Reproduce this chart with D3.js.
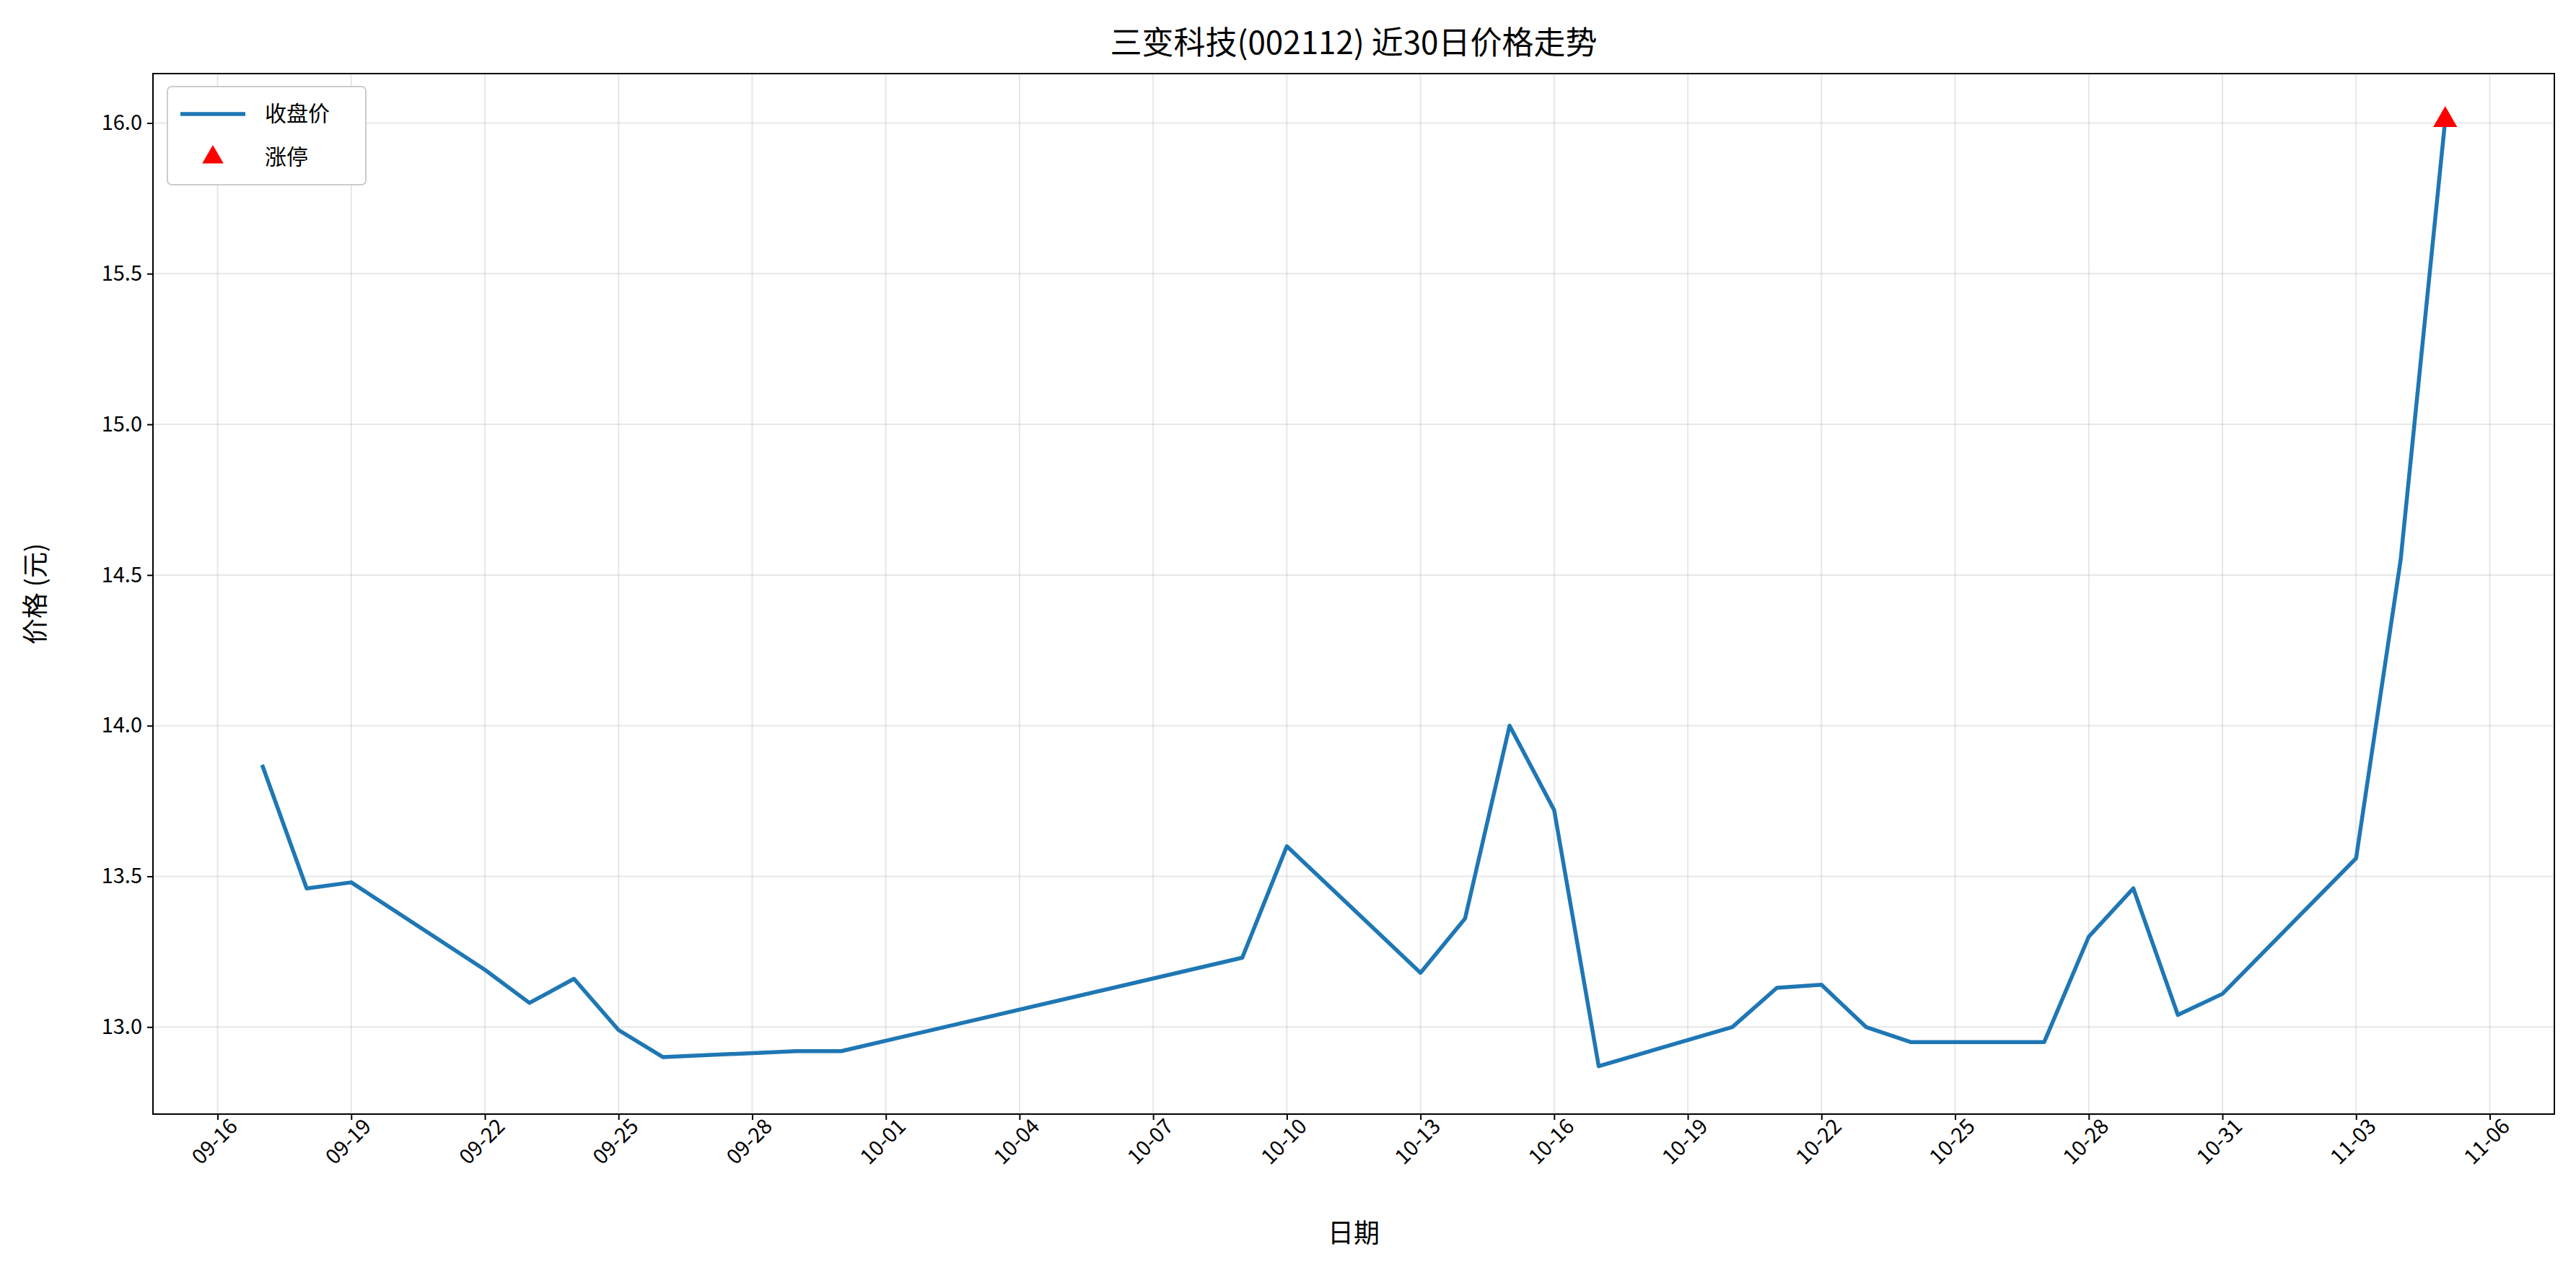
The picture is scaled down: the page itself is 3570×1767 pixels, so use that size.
<!DOCTYPE html>
<html><head><meta charset="utf-8">
<script src="https://cdn.jsdelivr.net/npm/d3@7"></script>
<style>body{margin:0;background:#fff}text{font-family:"Noto Sans CJK SC","DejaVu Sans",sans-serif}</style>
</head><body><svg width="3570" height="1767"></svg>
<script>
const dates = ['09-17','09-18','09-19','09-22','09-23','09-24','09-25','09-26','09-29','09-30','10-09','10-10','10-13','10-14','10-15','10-16','10-17','10-20','10-21','10-22','10-23','10-24','10-27','10-28','10-29','10-30','10-31','11-03','11-04','11-05'];
const closes = [13.87,13.46,13.48,13.19,13.08,13.16,12.99,12.90,12.92,12.92,13.23,13.60,13.18,13.36,14.00,13.72,12.87,13.00,13.13,13.14,13.00,12.95,12.95,13.30,13.46,13.04,13.11,13.56,14.55,16.01];
const limitUp = ['11-05'];
const yTicks = [13.0,13.5,14.0,14.5,15.0,15.5,16.0];

const svg = d3.select('svg');
const L = 212, R = 3540, T = 102, B = 1544;
const parse = s => new Date(2025, +s.slice(0,2)-1, +s.slice(3));
const d0 = parse(dates[0]), d1 = parse(dates[dates.length-1]);
const pad = (d1-d0)*0.05;
const x = d3.scaleTime().domain([new Date(+d0-pad), new Date(+d1+pad)]).range([L,R]);
const y = d3.scaleLinear().domain([12.711,16.164]).range([B,T]);

// x ticks every 3 days from 09-16
const xTicks = d3.range(0,52,3).map(i => new Date(2025,8,16+i));

// grid
svg.append('g').selectAll('line').data(xTicks).join('line')
  .attr('x1',d=>x(d)).attr('x2',d=>x(d)).attr('y1',T).attr('y2',B)
  .attr('stroke','#b0b0b0').attr('stroke-opacity',0.3).attr('stroke-width',2);
svg.append('g').selectAll('line').data(yTicks).join('line')
  .attr('x1',L).attr('x2',R).attr('y1',d=>y(d)).attr('y2',d=>y(d))
  .attr('stroke','#b0b0b0').attr('stroke-opacity',0.3).attr('stroke-width',2);

// axes
const xa = svg.append('g').attr('transform',`translate(0,${B})`)
  .call(d3.axisBottom(x).tickValues(xTicks).tickFormat(d3.timeFormat('%m-%d')).tickSize(8).tickSizeOuter(0));
xa.selectAll('text').attr('font-size',29).attr('fill','#000').attr('text-anchor','end')
  .attr('transform','translate(14,4) rotate(-45)').attr('dy','0.35em').attr('dx','0');
const ya = svg.append('g').attr('transform',`translate(${L},0)`)
  .call(d3.axisLeft(y).tickValues(yTicks).tickFormat(d3.format('.1f')).tickSize(8).tickSizeOuter(0));
ya.selectAll('text').attr('font-size',29).attr('fill','#000').attr('dx','-4');
svg.selectAll('.domain').remove();
svg.selectAll('.tick line').attr('stroke','#000').attr('stroke-width',2);
svg.append('rect').attr('x',L).attr('y',T).attr('width',R-L).attr('height',B-T)
  .attr('fill','none').attr('stroke','#000').attr('stroke-width',2);

// line
const pts = dates.map((d,i)=>({d:parse(d),v:closes[i],s:d}));
svg.append('path').datum(pts)
  .attr('d',d3.line().x(p=>x(p.d)).y(p=>y(p.v)))
  .attr('fill','none').attr('stroke','#1f77b4').attr('stroke-width',5.5).attr('stroke-linejoin','round');

const tri = d3.symbol().type(d3.symbolTriangle).size(480);
svg.append('g').selectAll('path').data(pts.filter(p=>limitUp.includes(p.s))).join('path')
  .attr('d',tri).attr('transform',p=>`translate(${x(p.d)},${y(p.v)})`).attr('fill','red');

// labels
svg.append('text').attr('x',(L+R)/2).attr('y',75).attr('text-anchor','middle').attr('font-size',44).text('三变科技(002112) 近30日价格走势');
svg.append('text').attr('x',(L+R)/2).attr('y',1722).attr('text-anchor','middle').attr('font-size',36).text('日期');
svg.append('text').attr('transform',`translate(62,${(T+B)/2}) rotate(-90)`).attr('text-anchor','middle').attr('font-size',36).text('价格 (元)');

// legend
const lg = svg.append('g').attr('transform','translate(232,120)');
lg.append('rect').attr('width',275).attr('height',136).attr('rx',6).attr('fill','#fff').attr('stroke','#ccc').attr('stroke-width',2);
lg.append('line').attr('x1',18).attr('x2',108).attr('y1',38).attr('y2',38).attr('stroke','#1f77b4').attr('stroke-width',5.5);
lg.append('text').attr('x',135).attr('y',48).attr('font-size',30).text('收盘价');
lg.append('path').attr('d',d3.symbol().type(d3.symbolTriangle).size(380)).attr('transform','translate(63,98)').attr('fill','red');
lg.append('text').attr('x',135).attr('y',108).attr('font-size',30).text('涨停');
</script></body></html>
